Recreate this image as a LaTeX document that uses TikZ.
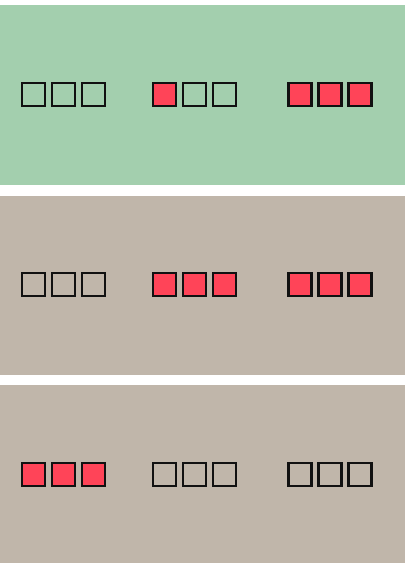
\documentclass[tikz,border=0pt]{standalone}
\usetikzlibrary{positioning}
\definecolor{pnlgreen}{HTML}{A3CFAE}
\definecolor{pnltan}{HTML}{C0B6AA}
\definecolor{cellred}{HTML}{FF4458}
\definecolor{celledge}{HTML}{111111}
\tikzset{
  cell/.style={rectangle, draw=celledge, line width=2.2pt, minimum size=23.1pt,
               inner sep=0pt},
  cellon/.style={cell, fill=cellred},
}
\begin{document}
\begin{tikzpicture}[x=1pt, y=-1pt, node distance=4.7pt]
      \useasboundingbox (0,0) rectangle (416,563);
      \fill[pnlgreen] (0,5) rectangle (405,185);
      \fill[pnltan] (0,196) rectangle (405,375);
      \fill[pnltan] (0,385) rectangle (405,563);
      % top panel
      \node[cell] (ta1) at (33.3,94.2) {};
      \node[cell, right=of ta1] (ta2) {};
      \node[cell, right=of ta2] (ta3) {};
      \node[cellon] (tb1) at (164.2,94.2) {};
      \node[cell, right=of tb1] (tb2) {};
      \node[cell, right=of tb2] (tb3) {};
      \node[cellon] (tc1) at (300,94.2) {};
      \node[cellon, right=of tc1] (tc2) {};
      \node[cellon, right=of tc2] (tc3) {};
      % middle panel
      \node[cell] (ma1) at (33.3,284.5) {};
      \node[cell, right=of ma1] (ma2) {};
      \node[cell, right=of ma2] (ma3) {};
      \node[cellon] (mb1) at (164.2,284.5) {};
      \node[cellon, right=of mb1] (mb2) {};
      \node[cellon, right=of mb2] (mb3) {};
      \node[cellon] (mc1) at (300,284.5) {};
      \node[cellon, right=of mc1] (mc2) {};
      \node[cellon, right=of mc2] (mc3) {};
      % bottom panel
      \node[cellon] (ba1) at (33.3,474.5) {};
      \node[cellon, right=of ba1] (ba2) {};
      \node[cellon, right=of ba2] (ba3) {};
      \node[cell] (bb1) at (164.2,474.5) {};
      \node[cell, right=of bb1] (bb2) {};
      \node[cell, right=of bb2] (bb3) {};
      \node[cell] (bc1) at (300,474.5) {};
      \node[cell, right=of bc1] (bc2) {};
      \node[cell, right=of bc2] (bc3) {};
    \end{tikzpicture}
\end{document}
